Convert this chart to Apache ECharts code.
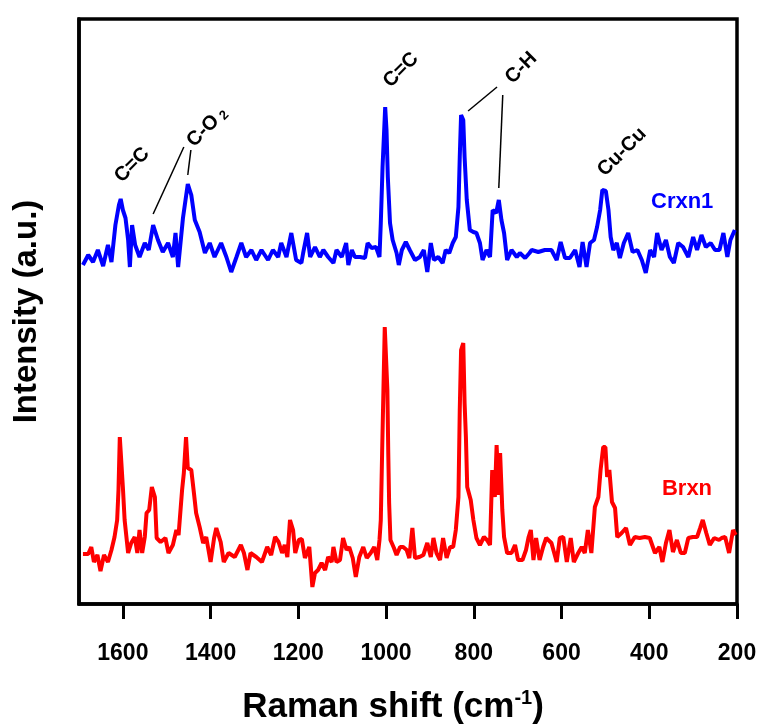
<!DOCTYPE html>
<html><head><meta charset="utf-8">
<script src="https://cdn.jsdelivr.net/npm/echarts@6/dist/echarts.min.js"></script>
<style>html,body{margin:0;padding:0;background:#fff}#c{width:762px;height:724px}</style>
</head><body><div id="c"></div>
<script>
// ---- data ----
const xTicks = [1600, 1400, 1200, 1000, 800, 600, 400, 200];

const crxn1Shift = [1691,1679,1668,1657,1645,1634,1626,1617,1609,1605,1600,1594,1588,1584,1579,1572,1562,1550,1541,1531,1520,1509,1497,1486,1480,1474,1463,1452,1444,1436,1425,1413,1402,1391,1376,1364,1353,1341,1330,1319,1307,1296,1284,1269,1258,1246,1239,1227,1216,1205,1193,1189,1180,1173,1162,1151,1143,1132,1120,1113,1101,1091,1086,1078,1071,1059,1048,1042,1033,1023,1015,1012,1008,1004,1002,999,996,991,985,976,971,964,955,946,934,923,914,906,898,891,881,871,864,856,848,841,835,832,829,824,821,816,809,801,794,786,780,771,763,757,749,743,737,731,724,714,702,695,683,673,668,653,638,623,611,602,592,581,569,559,552,543,535,526,519,512,507,499,493,488,482,474,467,458,448,438,427,417,408,398,389,382,372,362,353,344,334,323,311,300,291,281,271,260,250,240,231,222,215,205];
const crxn1Intensity = [339,349,342,354,338,359,342,379,399,405,394,386,364,337,379,359,347,361,354,379,364,352,361,347,371,337,386,420,409,384,372,351,361,347,361,347,332,347,361,347,354,344,354,344,354,347,361,347,371,344,341,351,371,347,357,347,354,347,341,354,347,361,339,354,347,347,346,361,356,357,347,381,437,477,497,474,427,381,364,351,339,354,362,354,344,347,354,332,361,344,347,341,354,351,361,367,397,447,489,484,447,404,374,372,371,361,344,354,347,394,391,404,384,371,344,354,347,351,346,351,354,352,354,354,344,362,346,346,354,337,362,337,361,364,377,394,414,413,394,367,354,361,346,361,371,352,354,344,331,354,347,371,354,364,347,341,361,357,347,367,354,369,357,361,354,354,371,347,364,374];

const brxnShift = [1691,1679,1672,1666,1658,1651,1643,1634,1626,1619,1613,1610,1607,1603,1600,1596,1588,1581,1573,1567,1562,1556,1550,1546,1540,1534,1527,1523,1514,1503,1496,1486,1478,1473,1465,1461,1456,1452,1444,1438,1433,1425,1417,1410,1400,1392,1387,1377,1370,1359,1345,1331,1324,1316,1309,1296,1283,1271,1262,1253,1245,1237,1231,1225,1219,1212,1207,1199,1192,1185,1175,1168,1162,1155,1147,1139,1132,1124,1120,1113,1105,1098,1090,1084,1076,1069,1061,1052,1044,1035,1027,1020,1015,1012,1009,1006,1003,1000,997,995,993,990,982,976,968,961,953,947,940,934,924,915,906,898,892,885,877,870,862,854,847,841,835,832,829,824,821,818,815,807,801,794,786,777,770,763,758,752,748,743,740,735,731,724,714,706,699,689,681,675,670,664,658,650,642,635,623,611,604,596,588,579,572,562,554,547,540,532,524,516,511,505,500,496,491,485,478,473,463,453,444,433,422,410,399,387,377,370,362,354,346,337,328,319,311,301,291,284,278,270,262,252,241,235,227,218,209,203];
const brxnIntensity = [50,50,57,42,49,33,49,42,54,67,84,114,167,167,117,84,51,61,67,51,74,51,67,91,94,117,107,66,62,66,51,59,74,69,114,131,167,136,134,111,91,77,61,67,42,66,76,62,42,51,47,59,51,34,51,47,42,57,49,67,62,51,59,47,84,74,51,64,65,46,57,17,31,34,41,34,47,42,57,42,44,66,54,57,46,27,47,57,46,51,57,44,64,84,151,214,277,277,214,151,101,64,56,49,57,57,54,46,76,46,47,49,61,47,66,51,44,66,46,57,57,74,107,194,254,261,201,167,117,104,84,66,59,67,64,59,134,107,159,109,151,94,67,51,51,59,44,44,54,67,74,44,66,44,57,66,61,42,66,67,42,66,42,51,57,51,74,51,97,107,134,157,157,127,134,102,96,67,71,76,59,67,66,67,66,51,57,42,61,74,52,64,51,51,66,67,67,76,84,71,59,66,64,66,67,51,74,69];

const seriesNames = ['Crxn1', 'Brxn'];
const seriesColors = ['#0000ff', '#ff0000'];

// annotation texts (peak assignments) and their anchors in data units [shift, intensity]
const peakLabels = ['C=C', 'C-O{s|2}', 'C=C', 'C-H', 'Cu-Cu'];
const peakLabelAnchors = [[1579, 439], [1408, 477], [966, 534], [692, 536], [462, 452]];
const leaderLines = [
  [[1531, 390], [1461, 457]],
  [[1452, 429], [1445, 454]],
  [[813, 493], [747, 517]],
  [[743, 416], [734, 509]]
];
const seriesLabelAnchors = [[325, 402], [314, 115]];

// ---- chart ----
const chart = echarts.init(document.getElementById('c'), null, { renderer: 'canvas' });
const pair = (xs, ys) => xs.map((x, i) => [x, ys[i]]);
const FONT = "'Liberation Sans', Arial, Helvetica, sans-serif";

chart.setOption({
  animation: false,
  backgroundColor: '#fff',
  grid: { left: 79, right: 25, top: 19, bottom: 120, show: true, borderColor: '#000', borderWidth: 3.5,
    containLabel: false, outerBoundsMode: 'none' },
  xAxis: {
    type: 'value', inverse: true, min: 200, max: 1700, interval: 200,
    name: 'Raman shift (cm{sup|-1})', nameLocation: 'middle', nameGap: 84,
    nameTextStyle: { fontFamily: FONT, fontWeight: 'bold', fontSize: 35, color: '#000', padding: [0, 30, 0, 0],
      rich: { sup: { fontFamily: FONT, fontWeight: 'bold', fontSize: 20, color: '#000', padding: [0, 0, 18, 0] } } },
    axisLine: { show: true, onZero: false, lineStyle: { color: '#000', width: 3.5 } },
    axisTick: { show: true, inside: false, length: 15, customValues: xTicks, lineStyle: { color: '#000', width: 3 } },
    axisLabel: { show: true, customValues: xTicks, margin: 38, formatter: v => String(v),
      fontFamily: FONT, fontWeight: 'bold', fontSize: 23, color: '#000' },
    splitLine: { show: false }
  },
  yAxis: {
    type: 'value', min: 0, max: 585,
    name: 'Intensity (a.u.)', nameLocation: 'middle', nameGap: 36, nameRotate: 90,
    nameTextStyle: { fontFamily: FONT, fontWeight: 'bold', fontSize: 33, color: '#000' },
    axisLine: { show: true, onZero: false, lineStyle: { color: '#000', width: 3.5 } },
    axisTick: { show: false }, axisLabel: { show: false }, splitLine: { show: false }
  },
  series: [
    { name: seriesNames[0], type: 'line', data: pair(crxn1Shift, crxn1Intensity), showSymbol: false,
      lineStyle: { color: seriesColors[0], width: 4 }, itemStyle: { color: seriesColors[0] } },
    { name: seriesNames[1], type: 'line', data: pair(brxnShift, brxnIntensity), showSymbol: false,
      lineStyle: { color: seriesColors[1], width: 4 }, itemStyle: { color: seriesColors[1] } }
  ]
});

const px = p => chart.convertToPixel({ gridIndex: 0 }, p);
const graphics = [];
peakLabels.forEach((t, i) => {
  const p = px(peakLabelAnchors[i]);
  graphics.push({ type: 'text', x: p[0], y: p[1], rotation: Math.PI / 4, z: 10,
    style: { text: t, fontFamily: FONT, fontWeight: 'bold', fontSize: 20, fill: '#000', align: 'center', verticalAlign: 'middle',
      rich: { s: { fontFamily: FONT, fontWeight: 'bold', fontSize: 13, fill: '#000', padding: [8, 0, 0, 4] } } } });
});
leaderLines.forEach(l => {
  const a = px(l[0]), b = px(l[1]);
  graphics.push({ type: 'line', z: 10, shape: { x1: a[0], y1: a[1], x2: b[0], y2: b[1] }, style: { stroke: '#000', lineWidth: 1.5 } });
});
seriesNames.forEach((n, i) => {
  const p = px(seriesLabelAnchors[i]);
  graphics.push({ type: 'text', x: p[0], y: p[1], z: 10,
    style: { text: n, fontFamily: FONT, fontWeight: 'bold', fontSize: 22, fill: seriesColors[i], align: 'center', verticalAlign: 'middle' } });
});
chart.setOption({ graphic: graphics });
</script>
</body></html>
